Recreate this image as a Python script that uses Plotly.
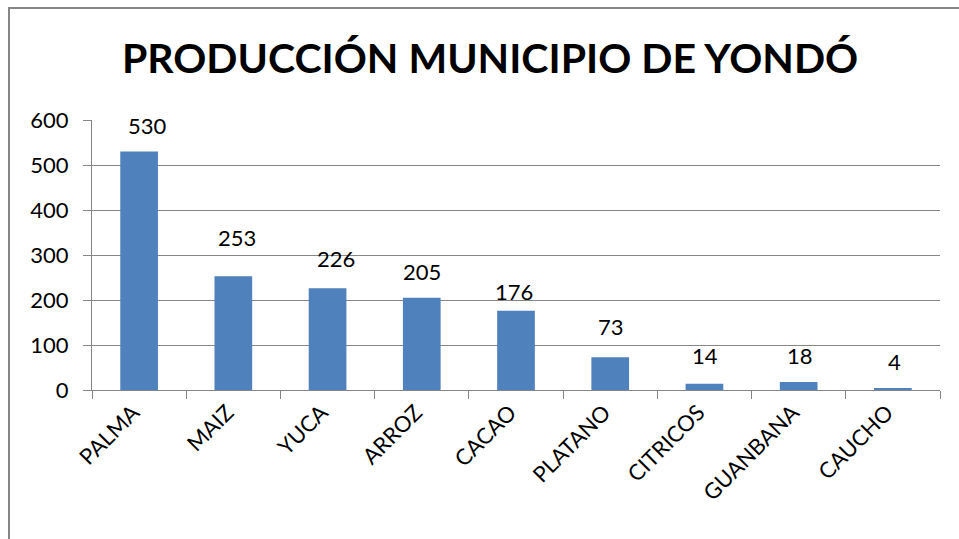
import plotly.graph_objects as go

categories = ["PALMA", "MAIZ", "YUCA", "ARROZ", "CACAO", "PLATANO", "CITRICOS", "GUANBANA", "CAUCHO"]
values = [530, 253, 226, 205, 176, 73, 14, 18, 4]
y_ticks = [0, 100, 200, 300, 400, 500, 600]

# label offsets (px) as placed in the original
label_yshift = [26, 39, 30, 26, 19, 31, 28, 26, 27]
label_xshift = [8, 4, 8, 0, -2, 1, 1, 1, 2]

W, H = 959, 539
L, R, T, B = 92, 19, 120, 149
pw, ph = W - L - R, H - T - B

fig = go.Figure()
fig.add_trace(go.Bar(
    x=categories, y=values, marker=dict(color="#4F81BD", line=dict(width=0)),
    width=0.4, hoverinfo="x+y",
))
for c, v, sy, sx in zip(categories, values, label_yshift, label_xshift):
    fig.add_annotation(x=c, y=v, text=str(v), showarrow=False, yshift=sy, xshift=sx,
                       font=dict(family="Lato, Open Sans, sans-serif", size=22, color="#000"))

fig.update_layout(
    width=W, height=H,
    margin=dict(l=L, r=R, t=T, b=B, autoexpand=False),
    paper_bgcolor="white", plot_bgcolor="white",
    showlegend=False,
    title=dict(text="<b>PRODUCCIÓN MUNICIPIO DE YONDÓ</b>", x=0.511, xanchor="center",
               y=1 - 59 / H, yanchor="middle",
               font=dict(family="Lato, Open Sans, sans-serif", size=41, color="#000")),
    font=dict(family="Lato, Open Sans, sans-serif", size=21, color="#000"),
    xaxis=dict(tickangle=-45, showline=True, linecolor="#868686", linewidth=1,
               ticks="outside", tickson="boundaries", ticklen=8, tickcolor="#868686",
               showgrid=False, tickfont=dict(size=22), fixedrange=True, automargin=False,
               ticklabelshift=-6),
    yaxis=dict(range=[0, 600], tickvals=y_ticks, showline=True, linecolor="#868686",
               linewidth=1, ticks="outside", ticklen=8, tickcolor="#868686",
               showgrid=True, gridcolor="#868686", gridwidth=1, zeroline=False,
               tickfont=dict(size=22), fixedrange=True, automargin=False,
               ticklabelstandoff=10),
    shapes=[dict(type="rect", xref="paper", yref="paper",
                 x0=(9 - L) / pw, x1=(965 - L) / pw,
                 y0=-(B + 10) / ph, y1=1 + (T - 8) / ph,
                 line=dict(color="#868686", width=2), fillcolor="rgba(0,0,0,0)", layer="below")],
)

fig.write_html("out.html", config={"displayModeBar": False},
               post_script="document.body.style.margin='0px';document.body.style.overflow='hidden';")
